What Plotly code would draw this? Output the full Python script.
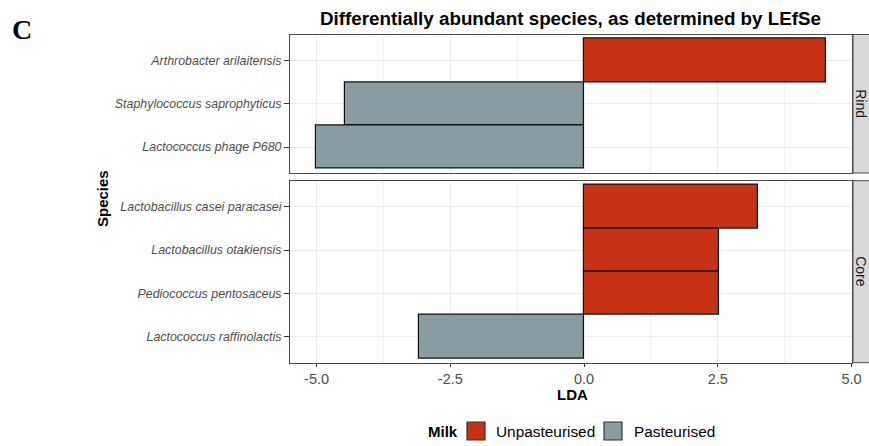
import plotly.graph_objects as go

# LEfSe results, split by cheese part (facets), listed top to bottom
rind_species = ["Arthrobacter arilaitensis", "Staphylococcus saprophyticus", "Lactococcus phage P680"]
rind_lda = [4.53, -4.47, -5.02]
rind_milk = ["Unpasteurised", "Pasteurised", "Pasteurised"]

core_species = ["Lactobacillus casei paracasei", "Lactobacillus otakiensis",
                "Pediococcus pentosaceus", "Lactococcus raffinolactis"]
core_lda = [3.25, 2.53, 2.53, -3.09]
core_milk = ["Unpasteurised", "Unpasteurised", "Unpasteurised", "Pasteurised"]

milk_levels = ["Unpasteurised", "Pasteurised"]
milk_colors = {"Unpasteurised": "#C83214", "Pasteurised": "#899CA2"}

x_ticks = [-5.0, -2.5, 0.0, 2.5, 5.0]
x_tick_labels = ["-5.0", "-2.5", "0.0", "2.5", "5.0"]

W, H = 869, 446
FONT = "Liberation Sans, Arial, Helvetica, sans-serif"


def px_x(p):
    return p / W


def px_y(p):
    return 1 - p / H


# panel geometry (pixels)
PX_L, PX_R = 290, 852
RIND_T, RIND_B = 34.5, 173
CORE_T, CORE_B = 180.7, 362.7

fig = go.Figure()

for species, lda, milk, xa, ya in [
    (rind_species, rind_lda, rind_milk, "x", "y"),
    (core_species, core_lda, core_milk, "x2", "y2"),
]:
    for level in milk_levels:
        ys = [s for s, m in zip(species, milk) if m == level]
        xs = [v for v, m in zip(lda, milk) if m == level]
        fig.add_trace(go.Bar(
            x=xs, y=ys, orientation="h", width=1,
            marker=dict(color=milk_colors[level], line=dict(color="#111111", width=1.2)),
            name=level, showlegend=False, xaxis=xa, yaxis=ya,
        ))

# 5 % expansion of the data range, as in a ggplot continuous scale
all_lda = rind_lda + core_lda
lo, hi = min(all_lda), max(all_lda)
pad = 0.05 * (hi - lo)
x_range = [lo - pad, hi + pad]

grid = "#EBEBEB"
border = "#4D4D4D"

common_x = dict(
    range=x_range, domain=[px_x(PX_L), px_x(PX_R)], tickvals=x_ticks, ticktext=x_tick_labels,
    showgrid=True, gridcolor=grid, gridwidth=1, zeroline=False, automargin=False,
    minor=dict(tickvals=[-3.75, -1.25, 1.25, 3.75], showgrid=True, gridcolor="#F2F2F2", gridwidth=0.7),
    showline=True, linecolor=border, linewidth=1, mirror=True,
)
common_y = dict(
    type="category", showgrid=True, gridcolor=grid, gridwidth=1, zeroline=False, automargin=False,
    showline=True, linecolor=border, linewidth=1, mirror=True,
    ticks="outside", ticklen=5, tickcolor="#333333",
    tickfont=dict(family=FONT, size=12.4, color="#4D4D4D", style="italic"),
)

fig.update_layout(
    width=W, height=H, margin=dict(l=0, r=0, t=0, b=0, autoexpand=False),
    paper_bgcolor="white", plot_bgcolor="white",
    barmode="overlay", bargap=0,
    font=dict(family=FONT),
    xaxis=dict(common_x, anchor="y", showticklabels=False, ticks=""),
    yaxis=dict(common_y, anchor="x", domain=[px_y(RIND_B), px_y(RIND_T)],
               categoryorder="array", categoryarray=rind_species[::-1],
               range=[-0.6, len(rind_species) - 0.4]),
    xaxis2=dict(common_x, anchor="y2", matches="x", ticks="outside", ticklen=3, tickcolor="#333333",
                tickfont=dict(family=FONT, size=14.5, color="#4D4D4D")),
    yaxis2=dict(common_y, anchor="x2", domain=[px_y(CORE_B), px_y(CORE_T)],
                categoryorder="array", categoryarray=core_species[::-1],
                range=[-0.6, len(core_species) - 0.4]),
    showlegend=False,
)

# facet strips on the right
shapes = []
annotations = []
for label, top, bot in [("Rind", RIND_T, RIND_B), ("Core", CORE_T, CORE_B)]:
    shapes.append(dict(type="rect", xref="paper", yref="paper",
                       x0=px_x(PX_R + 1), x1=px_x(876), y0=px_y(bot), y1=px_y(top),
                       fillcolor="#D9D9D9", line=dict(color=border, width=1), layer="below"))
    annotations.append(dict(text=label, xref="paper", yref="paper", x=px_x(861.5), y=px_y((top + bot) / 2),
                            showarrow=False, textangle=90, xanchor="center", yanchor="middle",
                            font=dict(family=FONT, size=14, color="#1A1A1A")))

# titles
annotations += [
    dict(text="<b>Differentially abundant species, as determined by LEfSe</b>", xref="paper", yref="paper",
         x=px_x(570), y=px_y(18), showarrow=False, xanchor="center", yanchor="middle",
         font=dict(family=FONT, size=18.8, color="black")),
    dict(text="<b>C</b>", xref="paper", yref="paper", x=px_x(22), y=px_y(30), showarrow=False,
         xanchor="center", yanchor="middle",
         font=dict(family="Liberation Serif, Times New Roman, serif", size=28, color="black")),
    dict(text="<b>Species</b>", xref="paper", yref="paper", x=px_x(102), y=px_y(199), showarrow=False,
         textangle=-90, xanchor="center", yanchor="middle", font=dict(family=FONT, size=15, color="black")),
    dict(text="<b>LDA</b>", xref="paper", yref="paper", x=px_x(572), y=px_y(394), showarrow=False,
         xanchor="center", yanchor="middle", font=dict(family=FONT, size=15, color="black")),
]

# legend: Milk
LEG_Y = 431
annotations.append(dict(text="<b>Milk</b>", xref="paper", yref="paper", x=px_x(426), y=px_y(LEG_Y),
                        showarrow=False, xanchor="left", yanchor="middle",
                        font=dict(family=FONT, size=15, color="black")))
key_x = [467, 604]
text_x = [494, 632]
for level, kx, tx in zip(milk_levels, key_x, text_x):
    shapes.append(dict(type="rect", xref="paper", yref="paper",
                       x0=px_x(kx), x1=px_x(kx + 18), y0=px_y(LEG_Y + 9), y1=px_y(LEG_Y - 9),
                       fillcolor=milk_colors[level], line=dict(color="#333333", width=1.2)))
    annotations.append(dict(text=level, xref="paper", yref="paper", x=px_x(tx), y=px_y(LEG_Y),
                            showarrow=False, xanchor="left", yanchor="middle",
                            font=dict(family=FONT, size=15.4, color="black")))

fig.update_layout(shapes=shapes, annotations=annotations)
fig.write_html("out.html")
